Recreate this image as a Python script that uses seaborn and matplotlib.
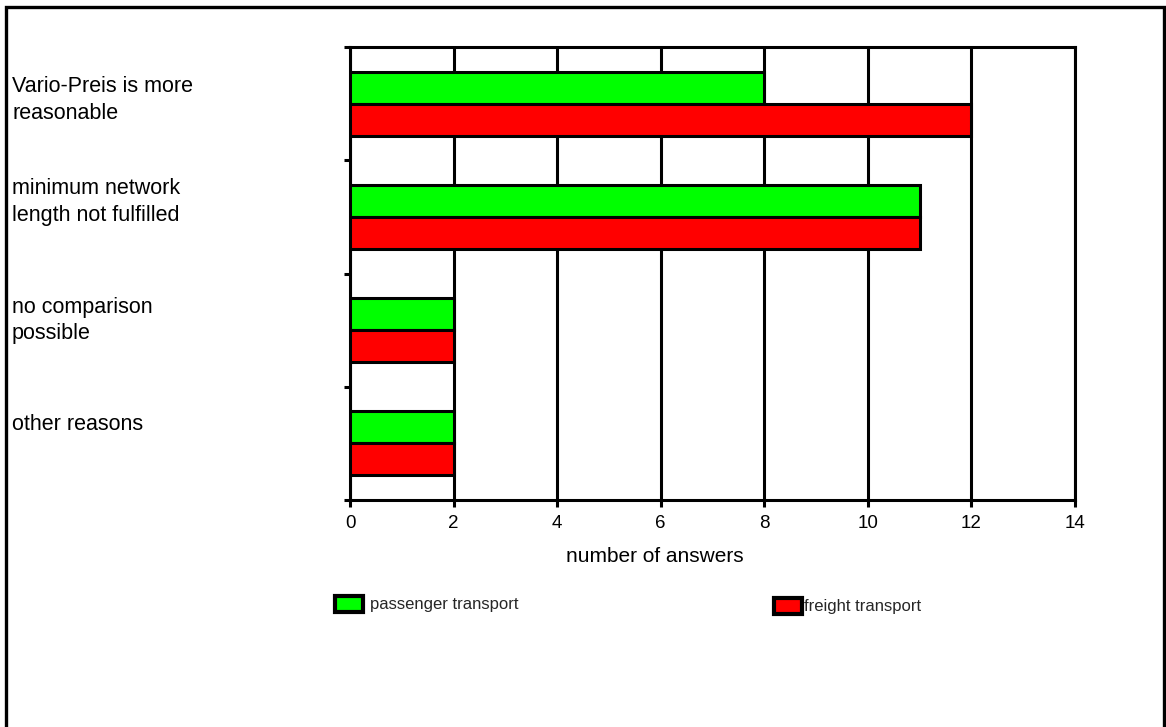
import matplotlib
matplotlib.use("Agg")
import matplotlib.pyplot as plt
from matplotlib.patches import Rectangle, Patch
import seaborn as sns
import pandas as pd

# Survey answers: reasons given, counted per transport sector
reasons = [
    "Vario-Preis is more\nreasonable",
    "minimum network\nlength not fulfilled",
    "no comparison\npossible",
    "other reasons",
]
passenger = [8, 11, 2, 2]
freight = [12, 11, 2, 2]
series_names = ["passenger transport", "freight transport"]
x_ticks = [0, 2, 4, 6, 8, 10, 12, 14]
x_label = "number of answers"

df = pd.DataFrame({
    "reason": reasons * 2,
    "answers": passenger + freight,
    "sector": [series_names[0]] * len(reasons) + [series_names[1]] * len(reasons),
})

sns.set_theme(style="white")
plt.rcParams["font.family"] = ["Liberation Sans", "DejaVu Sans"]

W, H = 1166, 727
fig = plt.figure(figsize=(W / 100, H / 100), dpi=100)
fig.patch.set_facecolor("white")
ax = fig.add_axes([350 / W, 1 - 500 / H, (1075 - 350) / W, (500 - 47) / H])

palette = {series_names[0]: "#00ff00", series_names[1]: "#ff0000"}
sns.barplot(data=df, y="reason", x="answers", hue="sector", orient="h",
            palette=palette, width=0.563, edgecolor="black", linewidth=2.2,
            saturation=1, ax=ax, legend=False, zorder=3)

ax.set_xlim(0, 14)
ax.set_ylim(3.5, -0.5)
ax.set_xticks(x_ticks)
ax.set_xticklabels([str(v) for v in x_ticks], fontsize=13.5, color="black")
ax.set_yticks([-0.5, 0.5, 1.5, 2.5, 3.5])
ax.set_yticklabels([])
ax.set_ylabel("")
ax.set_xlabel(x_label, fontsize=15, color="black")
ax.xaxis.set_label_coords((655 - 350) / 725, -(557 - 500) / 453, transform=ax.transAxes)
ax.xaxis.label.set_va("center")

ax.grid(axis="x", color="black", linewidth=2.2, zorder=1)
ax.grid(axis="y", visible=False)
ax.set_axisbelow(True)
for s in ax.spines.values():
    s.set_visible(True)
    s.set_color("black")
    s.set_linewidth(2.2)
ax.tick_params(axis="x", direction="out", length=5, width=2.2, color="black", pad=6, bottom=True)
ax.tick_params(axis="y", direction="out", length=4, width=2.2, color="black", left=True)

# Category captions on the left edge of the figure
label_offsets = [-0.16, -0.26, -0.21, -0.17]
trans = matplotlib.transforms.blended_transform_factory(fig.transFigure, ax.transData)
for i, (txt, off) in enumerate(zip(reasons, label_offsets)):
    first_line_top = i + off - 0.085
    ax.text(12 / W, first_line_top, txt, transform=trans, ha="left", va="top",
            fontsize=15.5, color="black", linespacing=1.36, clip_on=False)

# Legend entries placed under the axis
leg_kw = dict(frameon=False, fontsize=12, handlelength=1.7, handleheight=1.1,
              borderpad=0, borderaxespad=0, loc="center left")
h1 = Patch(facecolor="#00ff00", edgecolor="black", linewidth=3)
h2 = Patch(facecolor="#ff0000", edgecolor="black", linewidth=3)
fig.legend(handles=[h1], labels=[series_names[0]], bbox_to_anchor=(335 / W, 1 - 604 / H),
           handletextpad=0.42, **leg_kw)
fig.legend(handles=[h2], labels=[series_names[1]], bbox_to_anchor=(774 / W, 1 - 606 / H),
           handletextpad=0.12, **leg_kw)

# Outer frame (open at the bottom edge)
fig.patches.append(Rectangle((5.5 / W, -0.05), (1164 - 5.5) / W, 1.05 - 7.5 / H,
                             transform=fig.transFigure, fill=False,
                             edgecolor="black", linewidth=2.4))

fig.savefig("out.png", dpi=100, facecolor="white")
